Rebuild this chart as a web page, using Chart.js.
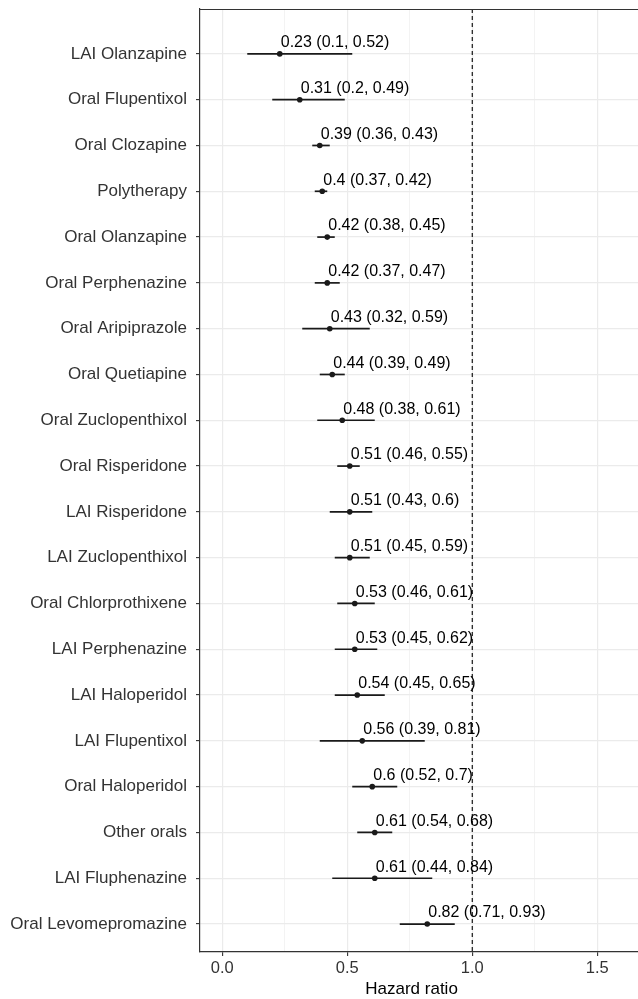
<!DOCTYPE html>
<html>
<head>
<meta charset="utf-8">
<script src="https://cdn.jsdelivr.net/npm/chart.js@4.4.1/dist/chart.umd.min.js"></script>
<style>
  html, body { margin: 0; padding: 0; background: #ffffff; }
  #wrap { width: 638px; height: 999px; }
</style>
</head>
<body>
<div id="wrap"><canvas id="forest"></canvas></div>
<script>
// Treatments, top to bottom
const treatments = [
  'LAI Olanzapine', 'Oral Flupentixol', 'Oral Clozapine', 'Polytherapy',
  'Oral Olanzapine', 'Oral Perphenazine', 'Oral Aripiprazole', 'Oral Quetiapine',
  'Oral Zuclopenthixol', 'Oral Risperidone', 'LAI Risperidone', 'LAI Zuclopenthixol',
  'Oral Chlorprothixene', 'LAI Perphenazine', 'LAI Haloperidol', 'LAI Flupentixol',
  'Oral Haloperidol', 'Other orals', 'LAI Fluphenazine', 'Oral Levomepromazine'
];
// Hazard ratio estimates and 95% confidence limits
const hazardRatio = [0.23, 0.31, 0.39, 0.4, 0.42, 0.42, 0.43, 0.44, 0.48, 0.51,
                     0.51, 0.51, 0.53, 0.53, 0.54, 0.56, 0.6, 0.61, 0.61, 0.82];
const ciLower     = [0.1, 0.2, 0.36, 0.37, 0.38, 0.37, 0.32, 0.39, 0.38, 0.46,
                     0.43, 0.45, 0.46, 0.45, 0.45, 0.39, 0.52, 0.54, 0.44, 0.71];
const ciUpper     = [0.52, 0.49, 0.43, 0.42, 0.45, 0.47, 0.59, 0.49, 0.61, 0.55,
                     0.6, 0.59, 0.61, 0.62, 0.65, 0.81, 0.7, 0.68, 0.84, 0.93];
// Axis ticks and the no-effect reference
const xMajorTicks = [0, 0.5, 1, 1.5];
const xMinorTicks = [0.25, 0.75, 1.25];
const referenceHR = 1;
const xAxisTitle = 'Hazard ratio';

const FONT = "'Liberation Sans', Arial, Helvetica, sans-serif";
const GRID = '#EBEBEB';
const INK = '#1A1A1A';
const AXIS_TEXT = '#333333';

const rowPos = i => i + 1;
const yMin = 0.02, yMax = 20.61;

// One horizontal segment per confidence interval
const ciSets = treatments.map((t, i) => ({
  type: 'line',
  label: t,
  data: [{ x: ciLower[i], y: rowPos(i) }, { x: ciUpper[i], y: rowPos(i) }],
  borderColor: INK,
  borderWidth: 1.7,
  pointRadius: 0,
  order: 2
}));

const pointSet = {
  type: 'scatter',
  label: 'HR',
  data: hazardRatio.map((v, i) => ({ x: v, y: rowPos(i) })),
  backgroundColor: INK,
  borderColor: INK,
  pointRadius: 2.8,
  borderWidth: 0,
  order: 1
};

const refSet = {
  type: 'line',
  label: 'ref',
  data: [{ x: referenceHR, y: yMin }, { x: referenceHR, y: yMax }],
  borderColor: '#000000',
  borderWidth: 1.1,
  borderDash: [4, 3],
  pointRadius: 0,
  order: 3
};

// Writes "HR (lower, upper)" above each estimate
const estimateLabels = {
  id: 'estimateLabels',
  afterDatasetsDraw(chart) {
    const { ctx, scales: { x, y } } = chart;
    ctx.save();
    ctx.font = '16px ' + FONT;
    ctx.fillStyle = '#000000';
    ctx.textAlign = 'left';
    ctx.textBaseline = 'middle';
    hazardRatio.forEach((v, i) => {
      const px = x.getPixelForValue(v);
      const py = y.getPixelForValue(rowPos(i));
      ctx.fillText(`${v} (${ciLower[i]}, ${ciUpper[i]})`, px + 1, py - 11);
    });
    ctx.restore();
  }
};

// Panel frame along the top edge, and the x-axis title under the ticks
const frameAndTitle = {
  id: 'frameAndTitle',
  afterDraw(chart) {
    const { ctx, chartArea: a } = chart;
    ctx.save();
    ctx.strokeStyle = '#333333';
    ctx.lineWidth = 1.2;
    ctx.beginPath();
    ctx.moveTo(a.left, a.top + 0.5);
    ctx.lineTo(a.right, a.top + 0.5);
    ctx.stroke();

    ctx.font = '17px ' + FONT;
    ctx.fillStyle = '#000000';
    ctx.textAlign = 'center';
    ctx.textBaseline = 'middle';
    ctx.fillText(xAxisTitle, a.left + (a.right - a.left) * 0.483, a.bottom + 37);
    ctx.restore();
  }
};

const isMajor = v => xMajorTicks.some(t => Math.abs(t - v) < 1e-9);

new Chart(document.getElementById('forest'), {
  data: { datasets: [...ciSets, pointSet, refSet] },
  options: {
    responsive: true,
    maintainAspectRatio: false,
    animation: false,
    layout: { autoPadding: false, padding: { top: 9, right: 0, bottom: 0, left: 0 } },
    plugins: { legend: { display: false }, tooltip: { enabled: false } },
    scales: {
      x: {
        type: 'linear',
        min: -0.089,
        max: 1.663,
        afterBuildTicks(scale) {
          scale.ticks = [...xMajorTicks, ...xMinorTicks].sort((a, b) => a - b).map(v => ({ value: v }));
        },
        afterFit(scale) {
          scale.height = 47;
          scale.paddingLeft = 0;
          scale.paddingRight = 0;
        },
        ticks: {
          autoSkip: false,
          maxRotation: 0,
          padding: 3,
          color: AXIS_TEXT,
          font: { family: FONT, size: 16.5 },
          callback: v => (isMajor(v) ? v.toFixed(1) : '')
        },
        grid: {
          color: GRID,
          lineWidth: c => (c.tick && isMajor(c.tick.value) ? 1.2 : 0.6),
          tickColor: c => (c.tick && isMajor(c.tick.value) ? '#333333' : 'rgba(0,0,0,0)'),
          tickLength: 4,
          tickWidth: 1.1
        },
        border: { color: '#333333', width: 1.2 },
        title: { display: false }
      },
      y: {
        type: 'linear',
        reverse: true,
        min: yMin,
        max: yMax,
        afterBuildTicks(scale) {
          scale.ticks = treatments.map((_, i) => ({ value: rowPos(i) }));
        },
        afterFit(scale) {
          scale.width = 200;
          scale.paddingTop = 0;
          scale.paddingBottom = 0;
        },
        ticks: {
          autoSkip: false,
          padding: 9,
          color: AXIS_TEXT,
          font: { family: FONT, size: 17 },
          callback: v => treatments[Math.round(v) - 1] || ''
        },
        grid: {
          color: GRID,
          lineWidth: 1.2,
          tickColor: '#333333',
          tickLength: 4,
          tickWidth: 1.1
        },
        border: { color: '#333333', width: 1.2 }
      }
    }
  },
  plugins: [estimateLabels, frameAndTitle]
});
</script>
</body>
</html>
